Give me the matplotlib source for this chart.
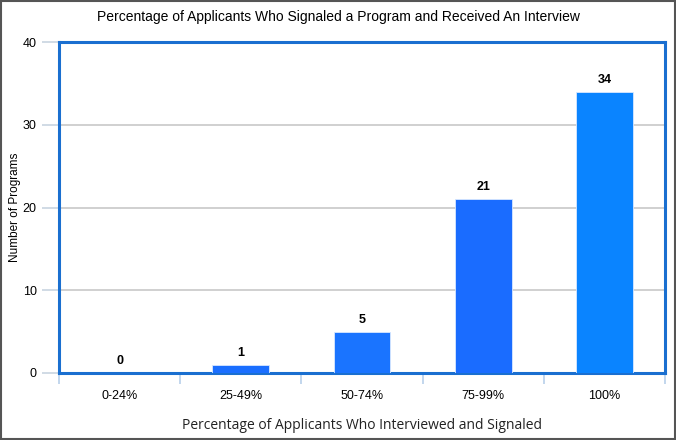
import matplotlib
matplotlib.use("Agg")
import matplotlib.pyplot as plt
from matplotlib.patches import Rectangle

categories = ["0-24%", "25-49%", "50-74%", "75-99%", "100%"]
values = [0, 1, 5, 21, 34]
bar_colors = ["#1a6eff", "#1a6eff", "#1a74ff", "#1a6cff", "#0a84ff"]
yticks = [0, 10, 20, 30, 40]

fig = plt.figure(figsize=(6.76, 4.4), dpi=100)
fig.patch.set_facecolor("white")
fig.patches.append(Rectangle((0.0015, 0.002), 0.997, 0.996, transform=fig.transFigure,
                             fill=False, edgecolor="#555555", linewidth=1.5))

ax = fig.add_axes([0.0873, 0.1523, 0.8964, 0.7522])
x = list(range(len(categories)))
ax.bar(x, values, width=0.47, color=bar_colors, edgecolor="#d8e8ff", linewidth=0.6, zorder=3)
for xi, v in zip(x, values):
    ax.text(xi, v + 0.7, str(v), ha="center", va="bottom", fontsize=9,
            fontweight="bold", family="Liberation Sans", zorder=4)

ax.set_xlim(-0.5, len(categories) - 0.5)
ax.set_ylim(0, 40)
ax.set_yticks(yticks)
ax.set_yticklabels([str(t) for t in yticks], family="Liberation Sans", fontsize=9)
ax.grid(axis="y", color="#c8c8c8", linewidth=1.2, zorder=0)
ax.set_axisbelow(True)

ax.set_xticks(x)
ax.set_xticklabels(categories, family="Liberation Sans", fontsize=9)
ax.tick_params(axis="x", length=0, pad=12)
ax.set_xticks([i + 0.5 for i in range(-1, len(categories))], minor=True)
ax.tick_params(axis="x", which="minor", length=8, color="#b8d0ea", width=1.2)
ax.tick_params(axis="y", length=12, color="#c8d4e0", width=1.2, pad=4)

for s in ax.spines.values():
    s.set_color("#1a6fd0")
    s.set_linewidth(2.2)

ax.set_ylabel("Number of Programs", family="Liberation Sans", fontsize=8.5)
ax.yaxis.set_label_coords(-0.062, 0.5)
ax.set_xlabel("Percentage of Applicants Who Interviewed and Signaled", family="Open Sans",
              fontsize=10, labelpad=12, color="#222222")
fig.text(0.5, 0.962, "Percentage of Applicants Who Signaled a Program and Received An Interview",
         ha="center", va="center", family="Liberation Sans", fontsize=10)

fig.savefig("out.png", dpi=100)
